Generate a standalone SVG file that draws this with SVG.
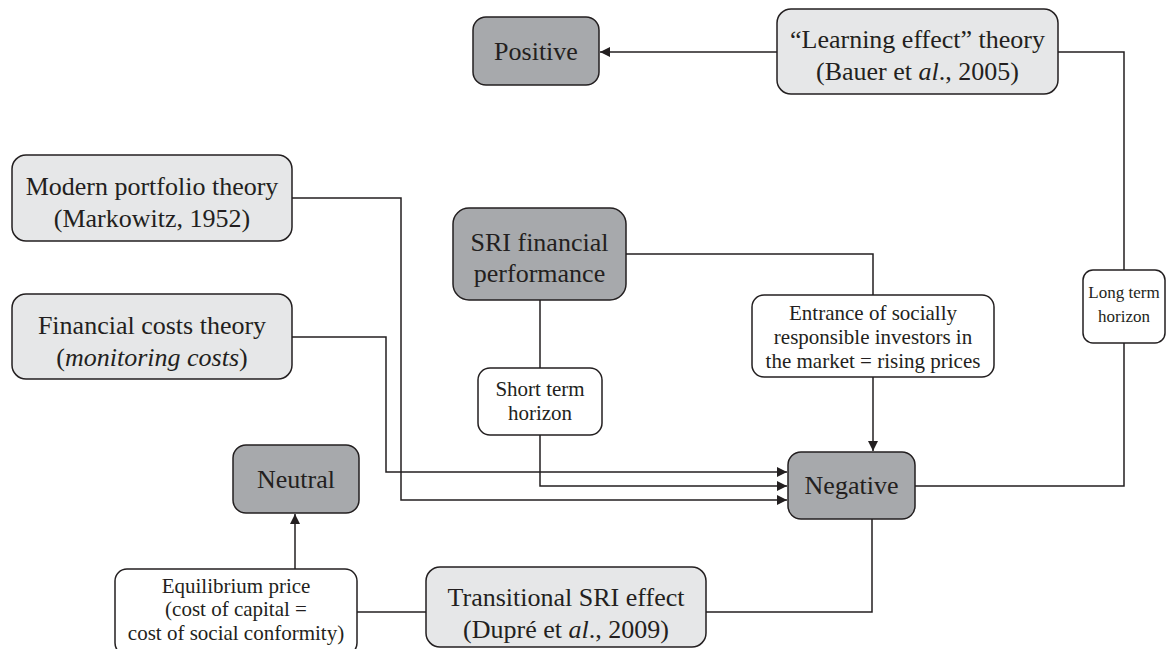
<svg xmlns="http://www.w3.org/2000/svg" width="1176" height="649" viewBox="0 0 1176 649">
<style>
.dark{fill:#a7a9ac;stroke:#231f20;stroke-width:1.5}
.light{fill:#e6e7e8;stroke:#231f20;stroke-width:1.5}
.white{fill:#ffffff;stroke:#231f20;stroke-width:1.5}
.t{font-family:"Liberation Serif","Times New Roman",serif;font-size:26px;fill:#231f20;text-anchor:middle}
.s{font-family:"Liberation Serif","Times New Roman",serif;font-size:21px;fill:#231f20;text-anchor:middle}
.xs{font-family:"Liberation Serif","Times New Roman",serif;font-size:17px;fill:#231f20;text-anchor:middle}
.c{fill:none;stroke:#231f20;stroke-width:1.5}
</style>
<defs>
<marker id="arr" viewBox="0 0 10 10" refX="10" refY="5" markerWidth="10" markerHeight="10" markerUnits="userSpaceOnUse" orient="auto">
<path d="M0,0 L10,5 L0,10 Z" fill="#231f20"/>
</marker>
</defs>
<rect width="1176" height="649" fill="#ffffff"/>
<g id="connectors">
<path class="c" d="M777,52 H600" marker-end="url(#arr)"/>
<path class="c" d="M1058,52 H1124 V486 H915"/>
<path class="c" d="M292,198 H401 V500 H787" marker-end="url(#arr)"/>
<path class="c" d="M292,337 H386 V472 H787" marker-end="url(#arr)"/>
<path class="c" d="M540,300 V368"/>
<path class="c" d="M540,435 V486 H787" marker-end="url(#arr)"/>
<path class="c" d="M626,254 H873 V295"/>
<path class="c" d="M873,377 V451" marker-end="url(#arr)"/>
<path class="c" d="M872,519 V612 H706"/>
<path class="c" d="M426,612 H357"/>
<path class="c" d="M295,569 V514" marker-end="url(#arr)"/>
</g>
<g id="positive">
<rect class="dark" x="473" y="17" width="126" height="68" rx="13"/>
<text class="t" x="536" y="60">Positive</text>
</g>
<g id="learning">
<rect class="light" x="777" y="9" width="281" height="85" rx="14"/>
<text class="t" x="917.5" y="48">“Learning effect” theory</text>
<text class="t" x="917.5" y="80">(Bauer et <tspan font-style="italic">al</tspan>., 2005)</text>
</g>
<g id="modern">
<rect class="light" x="12" y="155" width="280" height="86" rx="14"/>
<text class="t" x="152" y="195">Modern portfolio theory</text>
<text class="t" x="152" y="227">(Markowitz, 1952)</text>
</g>
<g id="financial">
<rect class="light" x="12" y="294" width="280" height="85" rx="14"/>
<text class="t" x="152" y="334">Financial costs theory</text>
<text class="t" x="152" y="366">(<tspan font-style="italic">monitoring costs</tspan>)</text>
</g>
<g id="sri">
<rect class="dark" x="453" y="208" width="173" height="92" rx="16"/>
<text class="t" x="539.5" y="251">SRI financial</text>
<text class="t" x="539.5" y="282">performance</text>
</g>
<g id="longterm">
<rect class="white" x="1083" y="270" width="82" height="73" rx="10"/>
<text class="xs" x="1124" y="298">Long term</text>
<text class="xs" x="1124" y="322">horizon</text>
</g>
<g id="entrance">
<rect class="white" x="752" y="295" width="242" height="82" rx="12"/>
<text class="s" x="873" y="320">Entrance of socially</text>
<text class="s" x="873" y="344">responsible investors in</text>
<text class="s" x="873" y="368">the market = rising prices</text>
</g>
<g id="shortterm">
<rect class="white" x="478" y="368" width="124" height="67" rx="12"/>
<text class="s" x="540" y="396">Short term</text>
<text class="s" x="540" y="420">horizon</text>
</g>
<g id="negative">
<rect class="dark" x="788" y="452" width="127" height="67" rx="13"/>
<text class="t" x="851.5" y="494">Negative</text>
</g>
<g id="neutral">
<rect class="dark" x="233" y="445" width="126" height="68" rx="13"/>
<text class="t" x="296" y="488">Neutral</text>
</g>
<g id="equilibrium">
<rect class="white" x="115" y="569" width="242" height="86" rx="12"/>
<text class="s" x="236" y="593">Equilibrium price</text>
<text class="s" x="236" y="616">(cost of capital =</text>
<text class="s" x="236" y="640">cost of social conformity)</text>
</g>
<g id="transitional">
<rect class="light" x="426" y="567" width="280" height="80" rx="14"/>
<text class="t" x="566" y="606">Transitional SRI effect</text>
<text class="t" x="566" y="638">(Dupré et <tspan font-style="italic">al</tspan>., 2009)</text>
</g>
</svg>
